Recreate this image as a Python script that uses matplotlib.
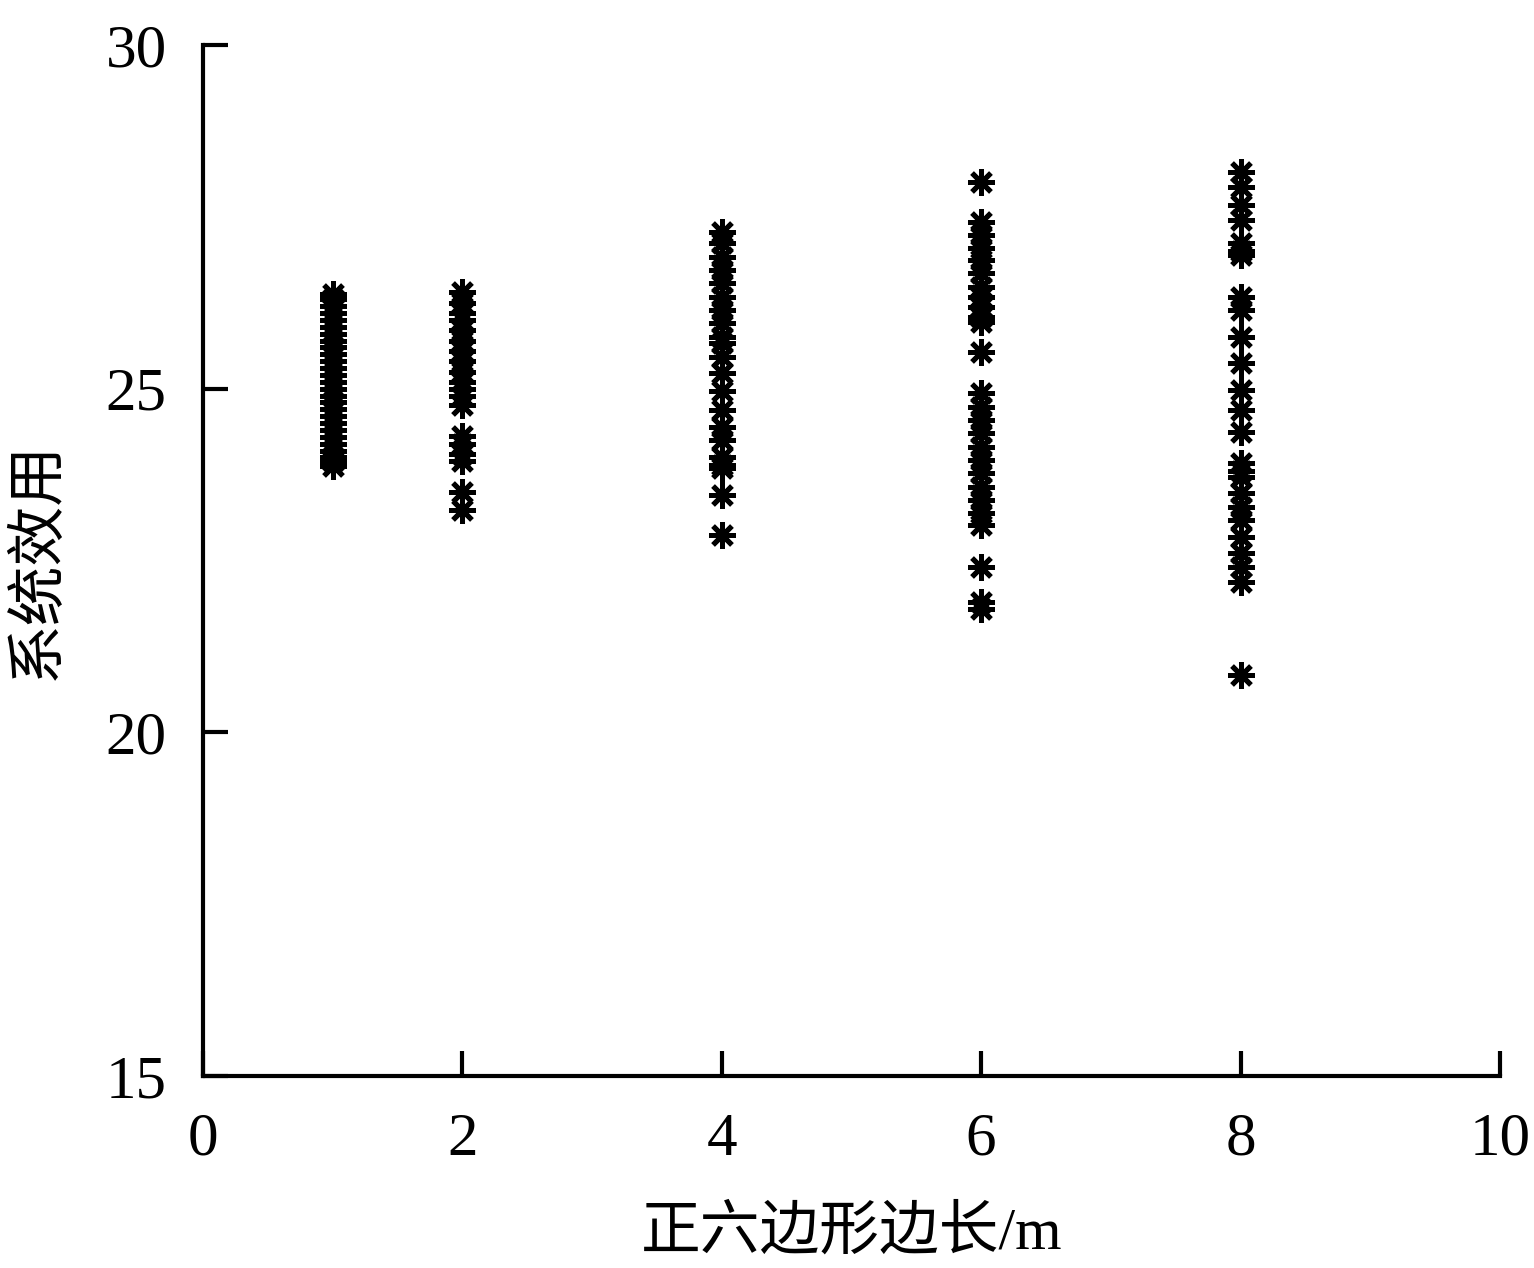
import matplotlib.pyplot as plt

plt.rcParams['font.family'] = ['Liberation Serif', 'Noto Sans CJK SC', 'DejaVu Sans']

# side length of the hexagon (m) for each column of points
side_lengths = [1, 2, 4, 6, 8]

# system utility, one list per side length
util_1 = [26.38, 26.3, 26.2, 26.1, 26.0, 25.9, 25.8, 25.7, 25.6, 25.5, 25.4,
          25.3, 25.2, 25.1, 25.0, 24.9, 24.8, 24.7, 24.6, 24.5, 24.4, 24.3,
          24.2, 24.1, 24.0, 23.95, 23.87]
util_2 = [26.41, 26.25, 26.1, 26.0, 25.85, 25.7, 25.55, 25.4, 25.25, 25.1,
          25.0, 24.9, 24.76, 24.31, 24.2, 24.05, 23.95, 23.5, 23.23]
util_4 = [27.28, 27.12, 26.92, 26.73, 26.54, 26.33, 26.14, 25.96, 25.75,
          25.66, 25.46, 25.23, 24.96, 24.69, 24.44, 24.25, 24.01, 23.89,
          23.84, 23.45, 22.87]
util_6 = [28.0, 27.42, 27.24, 27.05, 26.87, 26.68, 26.48, 26.33, 26.19,
          26.04, 25.97, 25.53, 24.94, 24.73, 24.54, 24.35, 24.15, 23.96,
          23.77, 23.57, 23.38, 23.19, 23.02, 22.41, 21.9, 21.8]
util_8 = [28.15, 27.93, 27.67, 27.45, 27.12, 27.0, 26.94, 26.33, 26.14,
          25.75, 25.37, 24.98, 24.69, 24.37, 23.92, 23.8, 23.71, 23.48,
          23.28, 23.09, 22.84, 22.61, 22.41, 22.19, 20.83]

all_util = [util_1, util_2, util_4, util_6, util_8]

x_ticks = [0, 2, 4, 6, 8, 10]
y_ticks = [15, 20, 25, 30]

fig = plt.figure(figsize=(15.34, 12.68), dpi=100)
ax = fig.add_axes([0.1323, 0.1514, 0.8455, 0.8131])

for x, vals in zip(side_lengths, all_util):
    ax.plot([x] * len(vals), vals, linestyle='none', marker=(8, 2, 0),
            markersize=19, markeredgewidth=3.6, color='black')

ax.set_xlim(0, 10)
ax.set_ylim(15, 30)
ax.set_xticks(x_ticks)
ax.set_yticks(y_ticks)

ax.spines['top'].set_visible(False)
ax.spines['right'].set_visible(False)
for s in ['left', 'bottom']:
    ax.spines[s].set_linewidth(3)

ax.tick_params(axis='both', direction='in', length=18, width=3,
               labelsize=44)
ax.tick_params(axis='y', pad=26)
ax.tick_params(axis='x', pad=26)

ax.set_xlabel('正六边形边长/m', fontsize=43, labelpad=28)
ax.set_ylabel('系统效用', fontsize=43, labelpad=28)

fig.savefig('out.png', dpi=100)
